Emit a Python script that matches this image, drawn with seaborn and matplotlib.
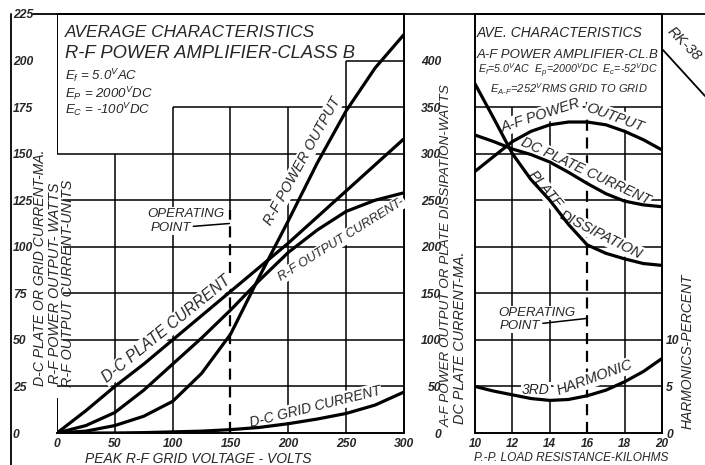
import pandas as pd
import matplotlib.pyplot as plt
from matplotlib.lines import Line2D
import seaborn as sns

# 1. Values
# left chart: peak r-f grid voltage (volts)
grid_volts = [0, 25, 50, 75, 100, 125, 150, 175, 200, 225, 250, 275, 300]
dc_plate_ma = [0, 12, 25, 37, 50, 63, 76, 89, 102, 116, 130, 144, 158]
rf_out_current = [0, 4, 11, 23, 37, 51, 66, 82, 97, 109, 119, 125, 129]
rf_power_watts = [0, 1, 4, 9, 17, 32, 53, 84, 114, 145, 173, 196, 214]
dc_grid_ma = [0, 0, 0, 0.2, 0.6, 1, 1.8, 3, 5, 7.5, 10.5, 15, 22]
op_volts = 150

# right chart: p-p load resistance (kilohms)
load_kohm = [10, 11, 12, 13, 14, 15, 16, 17, 18, 19, 20]
af_power_watts = [281, 297, 313, 324, 331, 334, 334, 331, 324, 315, 304]
af_plate_ma = [320, 313, 305, 299, 291, 280, 268, 257, 249, 245, 243]
plate_diss_watts = [375, 338, 300, 272, 250, 224, 202, 193, 187, 182, 180]
harmonic_pct = [5.0, 4.5, 4.1, 3.7, 3.5, 3.6, 4.0, 4.6, 5.5, 6.6, 8.0]
op_load = 16

left_yticks = [0, 25, 50, 75, 100, 125, 150, 175, 200, 225]
left_xticks = [0, 50, 100, 150, 200, 250, 300]
right_yticks = [0, 50, 100, 150, 200, 250, 300, 350, 400]
right_xticks = [10, 12, 14, 16, 18, 20]
harm_ticks = [0, 5, 10]

left = pd.DataFrame({'volts': grid_volts, 'plate': dc_plate_ma, 'rf_cur': rf_out_current,
                     'rf_pow': rf_power_watts, 'grid': dc_grid_ma})
right = pd.DataFrame({'kohm': load_kohm, 'power': af_power_watts, 'plate': af_plate_ma,
                      'diss': plate_diss_watts, 'harm': harmonic_pct})

# 2. Style
sns.set_style('white')
plt.rcParams['font.family'] = ['Liberation Sans', 'DejaVu Sans']
plt.rcParams['font.style'] = 'italic'
plt.rcParams['mathtext.fontset'] = 'custom'
plt.rcParams['mathtext.rm'] = 'Liberation Sans:italic'
plt.rcParams['mathtext.it'] = 'Liberation Sans:italic'

W, H = 705, 465
fig = plt.figure(figsize=(7.05, 4.65), dpi=100)
axL = fig.add_axes([57 / W, 1 - 433 / H, 347 / W, 419 / H])
axR = fig.add_axes([475 / W, 1 - 433 / H, 187 / W, 419 / H])
axH = axR.twinx()

curve = dict(color='k', lw=2.3, zorder=4)
grid = dict(colors='k', lw=1.1, zorder=1)
box = dict(boxstyle='square,pad=0.1', fc='white', ec='none')

# 3. Left chart - r-f class B
for col in ['plate', 'rf_cur', 'rf_pow', 'grid']:
    sns.lineplot(data=left, x='volts', y=col, ax=axL, **curve)
axL.set_xlim(0, 300)
axL.set_ylim(0, 225)
axL.hlines([25, 50, 75, 100, 125, 150], 0, 300, **grid)
axL.hlines(175, 100, 300, **grid)
axL.hlines(200, 250, 300, **grid)
axL.vlines(50, 0, 150, **grid)
axL.vlines([100, 200], 0, 175, **grid)
axL.vlines(op_volts, 120, 175, **grid)
axL.vlines(250, 0, 200, **grid)
axL.plot([op_volts, op_volts], [0, 120], color='k', lw=1.6, ls=(0, (5, 3)), zorder=2)
axL.spines['left'].set_visible(False)
axL.vlines(0, 0, 19, colors='k', lw=1.4)
axL.vlines(0, 150, 225, colors='k', lw=1.4)

axL.set_xticks(left_xticks)
axL.set_yticks(left_yticks)
axL.set_xticklabels([str(v) for v in left_xticks], fontsize=8.7, fontweight='bold')
axL.set_yticklabels([str(v) for v in left_yticks], fontsize=8.7, fontweight='bold')
axL.tick_params(axis='y', length=0, pad=31.7)
axL.tick_params(axis='x', length=0, pad=3.5)
for lbl in axL.get_yticklabels():
    lbl.set_ha('left')
axL.set_xlabel('')
axL.set_ylabel('')

axL.text(7, 212.5, 'AVERAGE CHARACTERISTICS', fontsize=12.4, va='baseline')
axL.text(7, 201.5, 'R-F POWER AMPLIFIER-CLASS B', fontsize=13.2, va='baseline')
axL.text(7, 189.5, r'E$_{f}$ = 5.0$^{V}$AC', fontsize=9.5, va='baseline')
axL.text(7, 179.8, r'E$_{P}$ = 2000$^{V}$DC', fontsize=9.5, va='baseline')
axL.text(7, 171.3, r'E$_{C}$ = -100$^{V}$DC', fontsize=9.5, va='baseline')

axL.text(95, 56, 'D-C PLATE CURRENT', fontsize=11.2, rotation=39, ha='center', va='center',
         rotation_mode='anchor', bbox=box, zorder=3)
axL.text(212, 146, 'R-F POWER OUTPUT', fontsize=10.3, rotation=61, ha='center', va='center',
         rotation_mode='anchor', bbox=box, zorder=3)
axL.text(246, 104, 'R-F OUTPUT CURRENT-', fontsize=9.2, rotation=32, ha='center', va='center',
         rotation_mode='anchor', bbox=box, zorder=3)
axL.text(223, 14, 'D-C GRID CURRENT', fontsize=10, rotation=14, ha='center', va='center',
         rotation_mode='anchor', bbox=box, zorder=3)
axL.text(111, 117.5, 'OPERATING', fontsize=9.5, ha='center', va='center', bbox=box, zorder=3)
axL.annotate('POINT', xy=(op_volts - 1, 112.5), xytext=(98, 110), fontsize=9.5, ha='center',
             va='center', bbox=box, zorder=3,
             arrowprops=dict(arrowstyle='-', color='k', lw=1.1, shrinkA=1, shrinkB=0))

# 4. Right chart - a-f class B
for col in ['power', 'plate', 'diss']:
    sns.lineplot(data=right, x='kohm', y=col, ax=axR, **curve)
sns.lineplot(data=right, x='kohm', y='harm', ax=axH, **curve)
axR.set_xlim(10, 20)
axR.set_ylim(0, 450)
axH.set_ylim(0, 45)
axR.hlines([50, 100, 150, 200, 250, 300, 350], 10, 20, **grid)
axR.vlines([12, 14, 18], 0, 350, **grid)
axR.plot([op_load, op_load], [0, 362], color='k', lw=1.6, ls=(0, (5, 3)), zorder=2)

axR.set_xticks(right_xticks)
axR.set_yticks(right_yticks)
axR.set_xticklabels([str(v) for v in right_xticks], fontsize=8.5, fontweight='bold')
axR.set_yticklabels([str(v) for v in right_yticks], fontsize=8.7, fontweight='bold')
axR.tick_params(axis='y', length=0, pad=24.5)
axR.tick_params(axis='x', length=0, pad=3.5)
axH.set_yticks(harm_ticks)
axH.set_yticklabels([str(v) for v in harm_ticks], fontsize=8.7, fontweight='bold')
axH.tick_params(axis='y', length=0, pad=3)
for ax in (axR, axH):
    ax.set_xlabel('')
    ax.set_ylabel('')
for s in axH.spines.values():
    s.set_visible(False)

axR.text(10.1, 425, 'AVE. CHARACTERISTICS', fontsize=10, va='baseline')
axR.text(10.1, 403, 'A-F POWER AMPLIFIER-CL.B', fontsize=9.5, va='baseline')
axR.text(10.15, 385, r'E$_{f}$=5.0$^{V}$AC  E$_{p}$=2000$^{V}$DC  E$_{c}$=-52$^{V}$DC',
         fontsize=7.7, va='baseline')
axR.text(15, 365, r'E$_{A\text{-}F}$=252$^{V}$RMS GRID TO GRID', fontsize=8, ha='center',
         va='baseline')

axR.text(13.5, 341, 'A-F POWER', fontsize=10.5, rotation=18, ha='center', va='center',
         rotation_mode='anchor', bbox=box, zorder=3)
axR.text(17.5, 339, 'OUTPUT', fontsize=10.5, rotation=-20, ha='center', va='center',
         rotation_mode='anchor', bbox=box, zorder=3)
axR.text(15.9, 281, 'DC PLATE CURRENT', fontsize=10.2, rotation=-25, ha='center', va='center',
         rotation_mode='anchor', bbox=box, zorder=3)
axR.text(13.75, 261, 'PLATE', fontsize=10.5, rotation=-50, ha='center', va='center',
         rotation_mode='anchor', bbox=box, zorder=3)
axR.text(16.7, 213, 'DISSIPATION', fontsize=10.5, rotation=-27, ha='center', va='center',
         rotation_mode='anchor', bbox=box, zorder=3)
axR.text(13.3, 129, 'OPERATING', fontsize=9.5, ha='center', va='center', bbox=box, zorder=3)
axR.annotate('POINT', xy=(op_load - 0.05, 123), xytext=(12.4, 115), fontsize=9.5, ha='center',
             va='center', bbox=box, zorder=3,
             arrowprops=dict(arrowstyle='-', color='k', lw=1.1, shrinkA=1, shrinkB=0))
axH.text(13.25, 4.6, '3RD', fontsize=10, ha='center', va='center', bbox=box, zorder=3)
axH.text(16.4, 5.9, 'HARMONIC', fontsize=10.5, rotation=20, ha='center', va='center',
         rotation_mode='anchor', bbox=box, zorder=3)

for ax in (axL, axR):
    for s in ax.spines.values():
        s.set_linewidth(1.4)
        s.set_color('k')

# 5. Axis titles and frame
def fx(px):
    return px / W

def fy(py):
    return 1 - py / H

fig.text(fx(40), fy(268), 'D-C PLATE OR GRID CURRENT-MA.', rotation=90, fontsize=10.1,
         ha='center', va='center')
fig.text(fx(55), fy(283), 'R-F POWER OUTPUT- WATTS', rotation=90, fontsize=10.4,
         ha='center', va='center', bbox=box)
fig.text(fx(68), fy(283), 'R-F OUTPUT CURRENT-UNITS', rotation=90, fontsize=10.4,
         ha='center', va='center')
fig.text(fx(85), fy(452), 'PEAK R-F GRID VOLTAGE - VOLTS', fontsize=10, va='top')
fig.text(fx(447), fy(256), 'A-F POWER OUTPUT OR PLATE DISSIPATION-WATTS', rotation=90,
         fontsize=9.7, ha='center', va='center')
fig.text(fx(460), fy(338), 'DC PLATE CURRENT-MA.', rotation=90, fontsize=10.4,
         ha='center', va='center')
fig.text(fx(474), fy(452), 'P.-P. LOAD RESISTANCE-KILOHMS', fontsize=8.6, va='top')
fig.text(fx(688), fy(351), 'HARMONICS-PERCENT', rotation=90, fontsize=10,
         ha='center', va='center')
fig.text(fx(684), fy(44), 'RK-38', rotation=-45, fontsize=10.5, ha='center', va='center')

fig.add_artist(Line2D([fx(11), fx(11)], [0, fy(14)], color='k', lw=1.3))
fig.add_artist(Line2D([fx(33), 1], [fy(14), fy(14)], color='k', lw=1.3))
fig.add_artist(Line2D([fx(663), 1], [fy(50), fy(96)], color='k', lw=1.3))

fig.savefig('out.png', dpi=100, facecolor='white')
